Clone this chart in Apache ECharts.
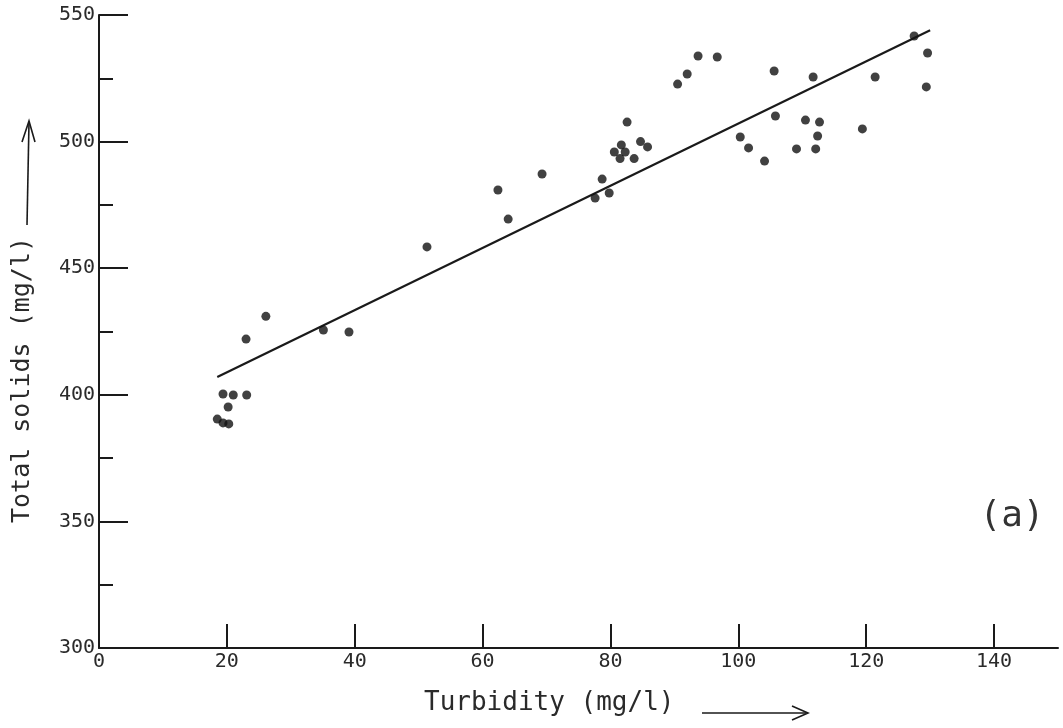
<!DOCTYPE html>
<html>
<head>
<meta charset="utf-8">
<title>Total solids vs Turbidity</title>
<script src="https://cdn.jsdelivr.net/npm/echarts@6/dist/echarts.min.js"></script>
<style>
  html, body { margin: 0; padding: 0; background: #ffffff; }
  #chart { width: 1063px; height: 728px; }
</style>
</head>
<body>
<div id="chart"></div>
<script>
// Observations: turbidity (mg/l) and total solids (mg/l)
const turbidity = [
  18.5, 19.4, 20.3, 19.4, 21.0, 20.2, 23.1,
  23.0, 26.1,
  35.1, 39.1,
  51.3,
  62.4, 64.0, 69.3,
  77.6, 78.7, 79.8,
  80.6, 81.5, 81.7, 82.3, 82.6, 83.7, 84.7, 85.8,
  90.5, 92.0, 93.7, 96.7,
  100.3, 101.6, 104.1,
  105.6, 105.8,
  109.1, 110.5, 111.7, 112.1, 112.4, 112.7,
  119.4, 121.4,
  127.5, 129.6, 129.4
];
const totalSolids = [
  390.4, 388.9, 388.5, 400.3, 399.9, 395.2, 399.9,
  422.0, 431.0,
  425.6, 424.8,
  458.4,
  480.9, 469.4, 487.2,
  477.7, 485.2, 479.7,
  495.9, 493.3, 498.7, 495.9, 507.7, 493.3, 500.0, 497.9,
  522.7, 526.7, 533.8, 533.4,
  501.8, 497.5, 492.3,
  527.9, 510.1,
  497.1, 508.5, 525.5, 497.1, 502.2, 507.7,
  505.0, 525.5,
  541.7, 535.0, 521.6
];

// Fitted line end points
const fitTurbidity = [18.5, 130];
const fitSolids = [407, 544];

// Tick values
const xLabelValues = [0, 20, 40, 60, 80, 100, 120, 140];
const xTickValues = [20, 40, 60, 80, 100, 120, 140];

const ink = '#1a1a1a';
const font = 'DejaVu Sans Mono';

const points = turbidity.map((t, i) => [t, totalSolids[i]]);
const fitLine = fitTurbidity.map((t, i) => [t, fitSolids[i]]);

const chart = echarts.init(document.getElementById('chart'), null, { renderer: 'canvas' });

chart.setOption({
  backgroundColor: '#ffffff',
  animation: false,
  grid: { left: 99, right: 5, top: 15, bottom: 80, containLabel: false },
  xAxis: {
    type: 'value',
    min: 0,
    max: 150,
    interval: 10,
    axisLine: { show: true, lineStyle: { color: ink, width: 2 } },
    axisTick: {
      show: true,
      inside: true,
      length: 24,
      customValues: xTickValues,
      lineStyle: { color: ink, width: 2 }
    },
    axisLabel: {
      show: true,
      customValues: xLabelValues,
      margin: 4,
      color: '#2a2a2a',
      fontFamily: font,
      fontSize: 20
    },
    splitLine: { show: false }
  },
  yAxis: {
    type: 'value',
    min: 300,
    max: 550,
    interval: 50,
    axisLine: { show: true, lineStyle: { color: ink, width: 2 } },
    axisTick: { show: true, inside: true, length: 29, lineStyle: { color: ink, width: 2 } },
    minorTick: { show: true, splitNumber: 2, length: 14, lineStyle: { color: ink, width: 2 } },
    axisLabel: {
      show: true,
      margin: 4,
      color: '#2a2a2a',
      fontFamily: font,
      fontSize: 20
    },
    splitLine: { show: false },
    minorSplitLine: { show: false }
  },
  graphic: [
    {
      type: 'text',
      left: 424,
      top: 690,
      style: { text: 'Turbidity (mg/l)', fill: '#2a2a2a', font: '26px "DejaVu Sans Mono"' }
    },
    {
      type: 'line',
      shape: { x1: 702, y1: 713, x2: 806, y2: 713 },
      style: { stroke: ink, lineWidth: 1.6 }
    },
    {
      type: 'polyline',
      shape: { points: [[792, 706], [808, 713], [792, 720]] },
      style: { stroke: ink, lineWidth: 1.6, fill: null }
    },
    {
      type: 'text',
      x: 22,
      y: 380,
      rotation: Math.PI / 2,
      style: {
        text: 'Total solids (mg/l)',
        fill: '#2a2a2a',
        font: '25px "DejaVu Sans Mono"',
        align: 'center',
        verticalAlign: 'middle'
      }
    },
    {
      type: 'line',
      shape: { x1: 27, y1: 225, x2: 29, y2: 122 },
      style: { stroke: ink, lineWidth: 1.6 }
    },
    {
      type: 'polyline',
      shape: { points: [[22, 142], [29, 121], [35, 142]] },
      style: { stroke: ink, lineWidth: 1.6, fill: null }
    },
    {
      type: 'text',
      x: 1012,
      y: 517,
      style: {
        text: '(a)',
        fill: '#333333',
        font: '36px "DejaVu Sans Mono"',
        align: 'center',
        verticalAlign: 'middle'
      }
    }
  ],
  series: [
    {
      type: 'line',
      data: fitLine,
      symbol: 'none',
      lineStyle: { color: ink, width: 2.2 },
      z: 2
    },
    {
      type: 'scatter',
      data: points,
      symbol: 'circle',
      symbolSize: 9,
      itemStyle: { color: '#111111' },
      z: 3
    }
  ]
});
</script>
</body>
</html>
